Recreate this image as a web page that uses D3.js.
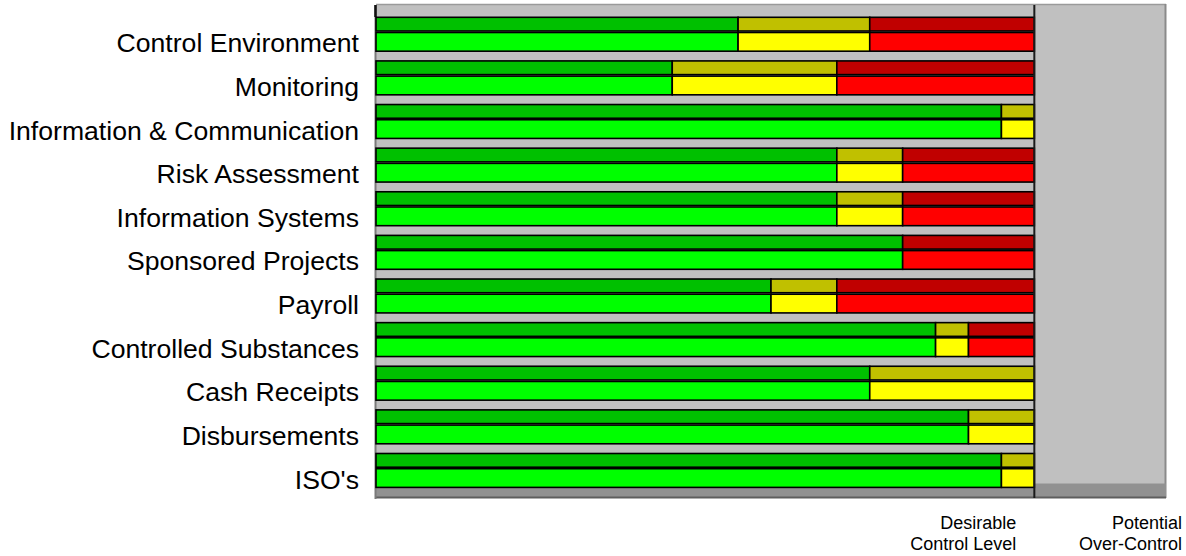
<!DOCTYPE html>
<html>
<head>
<meta charset="utf-8">
<script src="https://cdn.jsdelivr.net/npm/d3@7"></script>
<style>
  html, body { margin: 0; padding: 0; background: #ffffff; }
  svg { display: block; }
  text { font-family: "Liberation Sans", Arial, sans-serif; fill: #000; }
</style>
</head>
<body>
<svg id="chart" width="1186" height="556"></svg>
<script>
const categories = [
  "Control Environment", "Monitoring", "Information & Communication",
  "Risk Assessment", "Information Systems", "Sponsored Projects", "Payroll",
  "Controlled Substances", "Cash Receipts", "Disbursements", "ISO's"
];
const greenValues  = [55, 45, 95, 70, 70, 80, 60, 85, 75, 90, 95];
const yellowValues = [20, 25,  5, 10, 10,  0, 10,  5, 25, 10,  5];
const redValues    = [25, 30,  0, 20, 20, 20, 30, 10,  0,  0,  0];
const seriesNames  = ["green", "yellow", "red"];
const desirableLevel = 100;
const axisMax = 120;
const bottomLabels = [
  { value: 100, lines: ["Desirable", "Control Level"] },
  { value: 120, lines: ["Potential", "Over-Control"] }
];

const frontColors = { green: "#00ff00", yellow: "#ffff00", red: "#ff0000" };
const topColors   = { green: "#00c000", yellow: "#c0c000", red: "#c00000" };

const svg = d3.select("#chart");
const x = d3.scaleLinear().domain([0, axisMax]).range([376, 1166]);
const pitch = 43.62;
const y = d3.scaleBand().domain(categories).range([16.3, 16.3 + pitch * categories.length]).paddingInner(0).paddingOuter(0);

const rows = categories.map((c, i) => ({
  cat: c, green: greenValues[i], yellow: yellowValues[i], red: redValues[i]
}));
const stacked = d3.stack().keys(seriesNames)(rows);

// Back wall
svg.append("rect").attr("x", x(0)).attr("y", 5).attr("width", x(axisMax) - x(0)).attr("height", 492)
  .attr("fill", "#c0c0c0");
svg.append("line").attr("x1", x(0)).attr("x2", x(axisMax)).attr("y1", 4.5).attr("y2", 4.5)
  .attr("stroke", "#9a9a9a").attr("stroke-width", 1.5);
svg.append("line").attr("x1", x(axisMax) - 0.5).attr("x2", x(axisMax) - 0.5).attr("y1", 4).attr("y2", 498)
  .attr("stroke", "#8a8a8a").attr("stroke-width", 2);
// floor
svg.append("rect").attr("x", x(0)).attr("y", 483.5).attr("width", x(axisMax) - x(0)).attr("height", 13.5)
  .attr("fill", "#919191");
svg.append("line").attr("x1", x(0)).attr("x2", x(axisMax)).attr("y1", 497.5).attr("y2", 497.5)
  .attr("stroke", "#5e5e5e").attr("stroke-width", 2);

// left axis
svg.append("line").attr("x1", x(0) - 0.5).attr("x2", x(0) - 0.5).attr("y1", 5).attr("y2", 499)
  .attr("stroke", "#7a7a7a").attr("stroke-width", 2);
svg.append("line").attr("x1", x(0) - 0.5).attr("x2", x(0) - 0.5).attr("y1", 5).attr("y2", 17)
  .attr("stroke", "#111").attr("stroke-width", 2.5);

// bars
const topH = 13.7, frontY = 15.2, frontH = 18.7;
const g = svg.append("g");
stacked.forEach(layer => {
  const key = layer.key;
  layer.forEach((d, i) => {
    if (d[1] - d[0] <= 0) return;
    const y0 = y(categories[i]);
    g.append("rect")
      .attr("x", x(d[0])).attr("y", y0 + 1)
      .attr("width", x(d[1]) - x(d[0])).attr("height", topH)
      .attr("fill", topColors[key]).attr("stroke", "#000").attr("stroke-width", 1.6);
    g.append("rect")
      .attr("x", x(d[0])).attr("y", y0 + frontY + 1)
      .attr("width", x(d[1]) - x(d[0])).attr("height", frontH)
      .attr("fill", frontColors[key]).attr("stroke", "#000").attr("stroke-width", 1.6);
  });
});

// desirable divider
svg.append("line").attr("x1", x(desirableLevel)).attr("x2", x(desirableLevel)).attr("y1", 5).attr("y2", 498)
  .attr("stroke", "#1a1a1a").attr("stroke-width", 2);

// category labels
svg.append("g").selectAll("text").data(categories).join("text")
  .attr("x", 359).attr("y", d => y(d) + 36)
  .attr("text-anchor", "end")
  .style("font-size", "26.6px")
  .text(d => d);

// bottom labels
bottomLabels.forEach(b => {
  const t = svg.append("text").attr("text-anchor", "end").style("font-size", "18px");
  const xr = b.value === axisMax ? 1182 : x(b.value) - 18;
  b.lines.forEach((ln, j) => {
    t.append("tspan").attr("x", xr).attr("y", 529 + j * 20.5).text(ln);
  });
});
</script>
</body>
</html>
